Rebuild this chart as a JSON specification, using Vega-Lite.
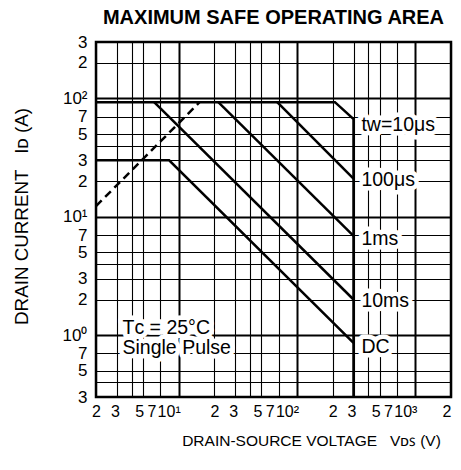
{
  "$schema": "https://vega.github.io/schema/vega-lite/v6.json",
  "width": 355,
  "height": 355,
  "autosize": {"type": "none"},
  "padding": {"left": 96, "top": 42, "right": 10, "bottom": 73},
  "background": "white",
  "title": {
    "text": "MAXIMUM SAFE OPERATING AREA",
    "font": "Liberation Sans",
    "fontSize": 20,
    "fontWeight": "bold",
    "color": "black",
    "frame": "group",
    "anchor": "middle",
    "offset": 5
  },
  "config": {
    "view": {"stroke": "black", "strokeWidth": 2.5},
    "axis": {
      "ticks": false,
      "domain": false,
      "grid": true,
      "gridColor": "black",
      "gridOpacity": 1,
      "labelFont": "Liberation Sans",
      "labelFontSize": 17,
      "labelColor": "black",
      "labelOverlap": false,
      "labelFlush": false,
      "titleFont": "Liberation Sans",
      "titleFontSize": 15.5,
      "titleFontWeight": "normal",
      "titleColor": "black"
    }
  },
  "datasets": {
    "curves": [
      {"series": "tw=10us", "k": 1, "v": 2, "i": 93},
      {"series": "tw=10us", "k": 2, "v": 209, "i": 93},
      {"series": "tw=10us", "k": 3, "v": 300, "i": 67},
      {"series": "tw=10us", "k": 4, "v": 300, "i": 0.3},
      {"series": "100us", "k": 1, "v": 68, "i": 93},
      {"series": "100us", "k": 2, "v": 300, "i": 21},
      {"series": "1ms", "k": 1, "v": 21.6, "i": 93},
      {"series": "1ms", "k": 2, "v": 300, "i": 6.9},
      {"series": "10ms", "k": 1, "v": 6.2, "i": 93},
      {"series": "10ms", "k": 2, "v": 300, "i": 2.0},
      {"series": "DC", "k": 1, "v": 2, "i": 30},
      {"series": "DC", "k": 2, "v": 8.3, "i": 30},
      {"series": "DC", "k": 3, "v": 300, "i": 0.86},
      {"series": "RDS(on) limit", "k": 1, "v": 2, "i": 12.3},
      {"series": "RDS(on) limit", "k": 2, "v": 15, "i": 93}
    ],
    "labels": [
      {"label": "tw=10μs", "v": 350, "i": 60},
      {"label": "100μs", "v": 350, "i": 20.4},
      {"label": "1ms", "v": 350, "i": 6.45},
      {"label": "10ms", "v": 350, "i": 1.95},
      {"label": "DC", "v": 350, "i": 0.8},
      {"label": "Tᴄ = 25°C", "v": 3.35, "i": 1.14},
      {"label": "Single Pulse", "v": 3.35, "i": 0.78}
    ]
  },
  "encoding": {
    "x": {
      "field": "v",
      "type": "quantitative",
      "scale": {"type": "log", "domain": [2, 2000], "nice": false},
      "axis": {
        "values": [2, 3, 4, 5, 7, 10, 20, 30, 40, 50, 70, 100, 200, 300, 400, 500, 700, 1000, 2000],
        "labelExpr": "datum.value==1?'10⁰':datum.value==10?'10¹':datum.value==100?'10²':datum.value==1000?'10³':(round(datum.value/pow(10,floor(log(datum.value)/LN10+1e-9)))==4?'':''+round(datum.value/pow(10,floor(log(datum.value)/LN10+1e-9))))",
        "labelFontSize": 16,
        "labelPadding": 6,
        "labelAlign": {"condition": {"test": "indexof([10,100,1000,2000],datum.value)>=0", "value": "right"}, "value": "center"},
        "labelOffset": {"condition": [
          {"test": "indexof([7,70,700],datum.value)>=0", "value": -9},
          {"test": "indexof([5,50,500],datum.value)>=0", "value": -4},
          {"test": "indexof([3,30,300],datum.value)>=0", "value": -2},
          {"test": "indexof([10,100,1000],datum.value)>=0", "value": 1.5}
        ], "value": 0},
        "gridWidth": {"condition": {"test": "indexof([10,100,1000],datum.value)>=0", "value": 2}, "value": 1.1},
        "title": "DRAIN-SOURCE VOLTAGE\u00a0\u00a0\u00a0Vᴅꜱ (V)",
        "titleX": 215,
        "titleY": 43.5,
        "titleBaseline": "middle",
        "titleAlign": "center"
      }
    },
    "y": {
      "field": "i",
      "type": "quantitative",
      "scale": {"type": "log", "domain": [0.3, 300], "nice": false},
      "axis": {
        "values": [0.3, 0.4, 0.5, 0.7, 1, 2, 3, 4, 5, 7, 10, 20, 30, 40, 50, 70, 100, 200, 300],
        "labelExpr": "datum.value==1?'10⁰':datum.value==10?'10¹':datum.value==100?'10²':datum.value==1000?'10³':(round(datum.value/pow(10,floor(log(datum.value)/LN10+1e-9)))==4?'':''+round(datum.value/pow(10,floor(log(datum.value)/LN10+1e-9))))",
        "labelPadding": 9,
        "labelBaseline": "middle",
        "gridWidth": {"condition": {"test": "indexof([1,10,100],datum.value)>=0", "value": 2}, "value": 1.1},
        "title": "DRAIN CURRENT\u00a0\u00a0\u00a0Iᴅ (A)",
        "titleFontSize": 18.8,
        "titleX": -74.5,
        "titleY": 174,
        "titleAngle": -90,
        "titleBaseline": "middle",
        "titleAlign": "center"
      }
    }
  },
  "layer": [
    {
      "data": {"name": "curves"},
      "transform": [{"filter": "datum.series != 'RDS(on) limit'"}],
      "mark": {"type": "line", "color": "black", "strokeWidth": 2.5},
      "encoding": {
        "detail": {"field": "series", "type": "nominal"},
        "order": {"field": "k", "type": "quantitative"}
      }
    },
    {
      "data": {"name": "curves"},
      "transform": [{"filter": "datum.series == 'RDS(on) limit'"}],
      "mark": {"type": "line", "color": "black", "strokeWidth": 2.5, "strokeDash": [8, 5]},
      "encoding": {
        "order": {"field": "k", "type": "quantitative"}
      }
    },
    {
      "data": {"name": "labels"},
      "mark": {"type": "text", "align": "left", "baseline": "middle", "font": "Liberation Sans", "fontSize": 19.5, "color": "white", "stroke": "white", "strokeWidth": 9, "strokeJoin": "round"},
      "encoding": {"text": {"field": "label", "type": "nominal"}}
    },
    {
      "data": {"name": "labels"},
      "mark": {"type": "text", "align": "left", "baseline": "middle", "font": "Liberation Sans", "fontSize": 19.5, "color": "black"},
      "encoding": {"text": {"field": "label", "type": "nominal"}}
    }
  ]
}
